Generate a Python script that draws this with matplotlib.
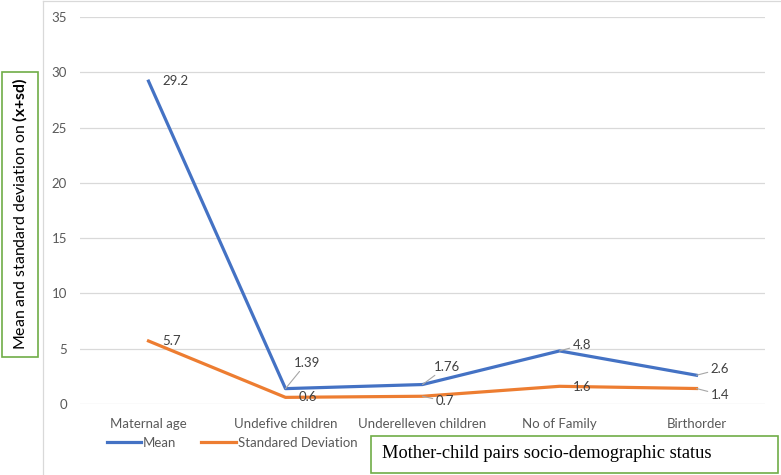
import matplotlib
matplotlib.use("Agg")
import matplotlib.pyplot as plt
from matplotlib.patches import Rectangle
from matplotlib.lines import Line2D

categories = ["Maternal age", "Undefive children", "Underelleven children", "No of Family", "Birthorder"]
mean_vals = [29.2, 1.39, 1.76, 4.8, 2.6]
sd_vals = [5.7, 0.6, 0.7, 1.6, 1.4]
mean_labels = ["29.2", "1.39", "1.76", "4.8", "2.6"]
sd_labels = ["5.7", "0.6", "0.7", "1.6", "1.4"]
y_ticks = [0, 5, 10, 15, 20, 25, 30, 35]

BLUE = "#4472C4"
ORANGE = "#ED7D31"
GRAY = "#595959"
GREEN = "#70AD47"

plt.rcParams["font.family"] = ["Lato", "DejaVu Sans"]
plt.rcParams["mathtext.fontset"] = "custom"
plt.rcParams["mathtext.rm"] = "Lato"
plt.rcParams["mathtext.bf"] = "Lato:weight=bold"

W, H = 781, 475
fig = plt.figure(figsize=(W / 100, H / 100), dpi=100)

# plot area in pixel coords
left, right, top, bottom = 80, 765, 17, 404
ax = fig.add_axes([left / W, (H - bottom) / H, (right - left) / W, (bottom - top) / H])

x = list(range(len(categories)))
ax.plot(x, mean_vals, color=BLUE, lw=2.3, solid_joinstyle="round", label="Mean", zorder=3)
ax.plot(x, sd_vals, color=ORANGE, lw=2.3, solid_joinstyle="round", label="Standared Deviation", zorder=3)

ax.set_xlim(-0.5, len(categories) - 0.5)
ax.set_ylim(0, 35)
ax.set_yticks(y_ticks)
ax.set_xticks(x)
ax.set_xticklabels(categories)
ax.grid(axis="y", color="#D9D9D9", lw=0.9)
ax.set_axisbelow(True)
for s in ax.spines.values():
    s.set_visible(False)
ax.tick_params(axis="both", length=0, colors=GRAY, labelsize=9.5)
ax.tick_params(axis="y", pad=9.4)
ax.tick_params(axis="x", pad=10)

# data labels: (dx, dy in pixels, positive dy = up; leader line?)
mean_offsets = [(14, 0, False), (8, 26, True), (11, 18, True), (13, 6, True), (14, 6, True)]
sd_offsets = [(14, 0, False), (13, 0, False), (13, -5, True), (13, -1, False), (14, -6, True)]

def put_labels(vals, labels, offsets):
    for i, (v, lab, (dx, dy, lead)) in enumerate(zip(vals, labels, offsets)):
        kw = {}
        if lead:
            kw["arrowprops"] = dict(arrowstyle="-", color="#A6A6A6", lw=0.8,
                                    shrinkA=0, shrinkB=0)
        ax.annotate(lab, (i, v), xytext=(dx, dy), textcoords="offset pixels",
                    ha="left", va="center", fontsize=9.5, color="#404040", zorder=4, **kw)

put_labels(mean_vals, mean_labels, mean_offsets)
put_labels(sd_vals, sd_labels, sd_offsets)

# legend
handles = [Line2D([], [], color=BLUE, lw=2.3), Line2D([], [], color=ORANGE, lw=2.3)]
fig.legend(handles, ["Mean", "Standared Deviation"], loc="center",
           bbox_to_anchor=(232 / W, (H - 443) / H), ncol=2, frameon=False,
           fontsize=9.5, handlelength=2.6, handletextpad=0.15, columnspacing=1.9,
           labelcolor=GRAY)

# chart border lines
fig.add_artist(Line2D([43 / W, 43 / W], [0, (H - 1) / H], color="#D9D9D9", lw=0.9))
fig.add_artist(Line2D([43 / W, 1], [(H - 1) / H, (H - 1) / H], color="#D9D9D9", lw=0.9))

# y label box
fig.add_artist(Rectangle((2 / W, (H - 357) / H), 36 / W, 285 / H, transform=fig.transFigure,
                         facecolor="white", edgecolor=GREEN, lw=1.2, zorder=1))
fig.text(20 / W, (H - 214) / H, r"Mean and standard deviation on $\mathbf{(x{+}sd)}$",
         rotation=90, ha="center", va="center", fontsize=11.4, color="black", zorder=2)

# x label box
fig.add_artist(Rectangle((371 / W, (H - 473) / H), 407 / W, 37 / H, transform=fig.transFigure,
                         facecolor="white", edgecolor=GREEN, lw=1.2, zorder=1))
fig.text(382 / W, (H - 454) / H, "Mother-child pairs socio-demographic status",
         ha="left", va="center", fontsize=13.2, family=["Liberation Serif"], color="black",
         zorder=2)

fig.savefig("out.png", dpi=100)
